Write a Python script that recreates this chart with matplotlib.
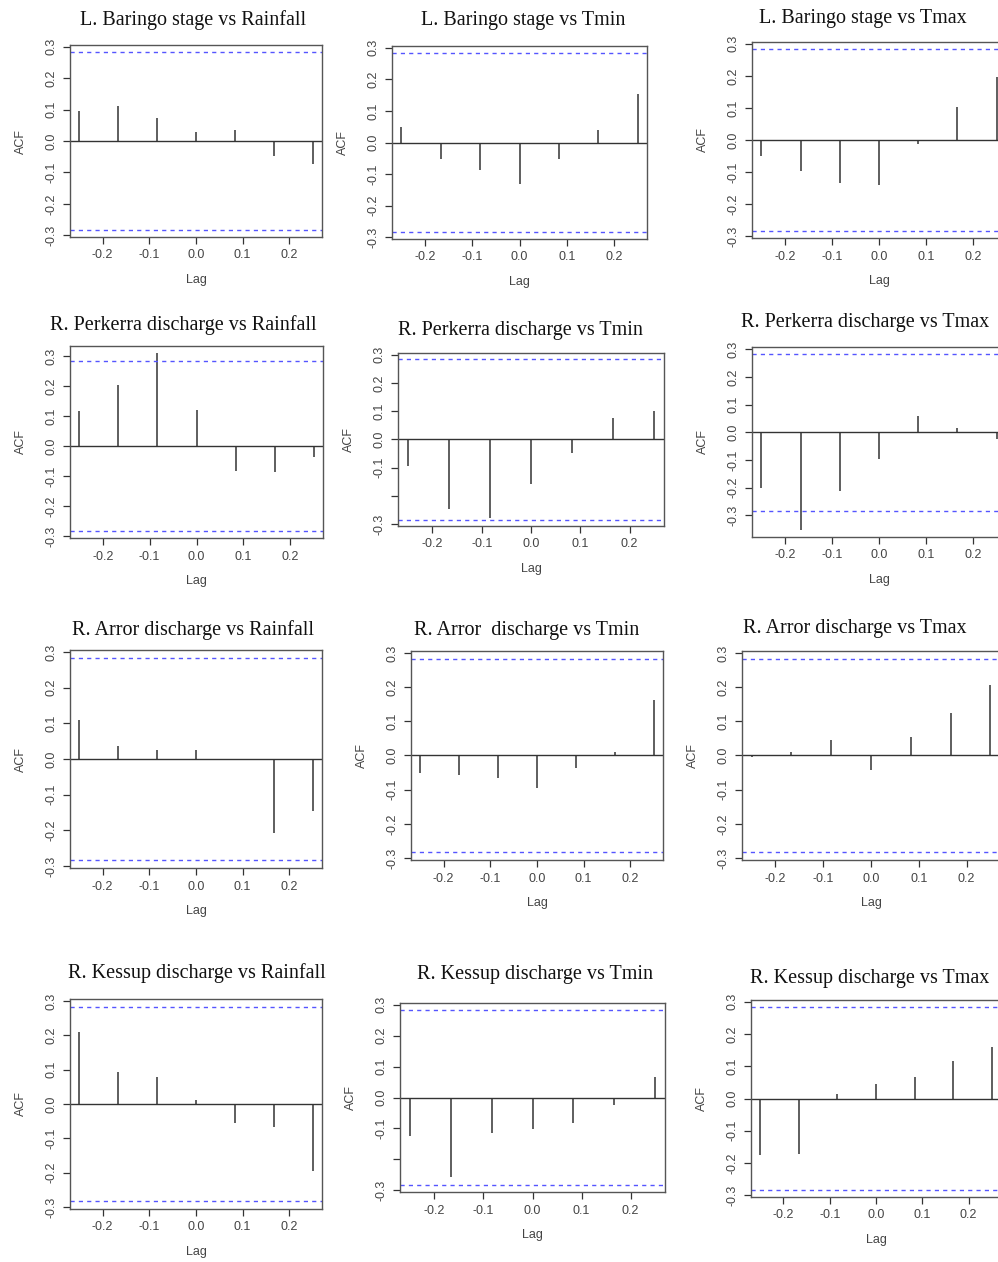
import numpy as np
import matplotlib
matplotlib.use("Agg")
import matplotlib.pyplot as plt

# lags in years (monthly series, lag -3..3 months)
lags = np.array([-3, -2, -1, 0, 1, 2, 3]) / 12.0
ci = 0.283

titles = [
    "L. Baringo stage vs Rainfall", "L. Baringo stage vs Tmin", "L. Baringo stage vs Tmax",
    "R. Perkerra discharge vs Rainfall", "R. Perkerra discharge vs Tmin", "R. Perkerra discharge vs Tmax",
    "R. Arror discharge vs Rainfall", "R. Arror  discharge vs Tmin", "R. Arror discharge vs Tmax",
    "R. Kessup discharge vs Rainfall", "R. Kessup discharge vs Tmin", "R. Kessup discharge vs Tmax",
]

baringo_rain = [0.097, 0.113, 0.072, 0.028, 0.036, -0.047, -0.072]
baringo_tmin = [0.049, -0.053, -0.086, -0.130, -0.052, 0.041, 0.153]
baringo_tmax = [-0.050, -0.098, -0.133, -0.141, -0.012, 0.103, 0.196]
perkerra_rain = [0.118, 0.203, 0.310, 0.121, -0.083, -0.085, -0.037]
perkerra_tmin = [-0.094, -0.245, -0.278, -0.158, -0.048, 0.075, 0.101]
perkerra_tmax = [-0.202, -0.353, -0.213, -0.095, 0.060, 0.014, -0.024]
arror_rain = [0.110, 0.036, 0.026, 0.025, -0.004, -0.208, -0.146]
arror_tmin = [-0.052, -0.057, -0.066, -0.094, -0.037, 0.009, 0.163]
arror_tmax = [-0.005, 0.009, 0.046, -0.042, 0.054, 0.125, 0.207]
kessup_rain = [0.209, 0.092, 0.078, 0.013, -0.056, -0.068, -0.194]
kessup_tmin = [-0.126, -0.258, -0.115, -0.102, -0.081, -0.025, 0.065]
kessup_tmax = [-0.176, -0.173, 0.015, 0.045, 0.066, 0.117, 0.161]

series = [baringo_rain, baringo_tmin, baringo_tmax,
          perkerra_rain, perkerra_tmin, perkerra_tmax,
          arror_rain, arror_tmin, arror_tmax,
          kessup_rain, kessup_tmin, kessup_tmax]

# panels where the -0.2 label got dropped (too short)
no_m02 = [4, 10]

# axes boxes in pixels: left, top, right, bottom
boxes = [
    (70, 45, 322, 237), (392, 46, 647, 239), (752, 42, 1006, 238),
    (70, 346, 323, 538), (398, 353, 664, 526), (752, 347, 1006, 537),
    (70, 650, 322, 868), (411, 651, 663, 860), (742, 651, 1000, 860),
    (70, 999, 322, 1209), (400, 1003, 665, 1192), (751, 1000, 1001, 1197),
]
title_pos = [
    (193, 20), (523, 20), (863, 18),
    (183, 325), (520, 330), (865, 322),
    (193, 630), (527, 630), (855, 628),
    (197, 973), (535, 975), (870, 978),
]

W, H = 998, 1262
fig = plt.figure(figsize=(W / 100, H / 100), dpi=100)
fig.patch.set_facecolor("white")

txt = "#444444"
line = "#333333"

for i, vals in enumerate(series):
    vals = np.array(vals)
    l, t, r, b = boxes[i]
    ax = fig.add_axes([l / W, 1 - b / H, (r - l) / W, (b - t) / H])
    ax.vlines(lags, 0, vals, color=line, lw=1.1)
    ax.axhline(0, color=line, lw=1.0)
    ax.axhline(ci, color="#5555ff", lw=1.0, ls=(0, (3, 3)))
    ax.axhline(-ci, color="#5555ff", lw=1.0, ls=(0, (3, 3)))

    lo = min(vals.min(), -ci)
    hi = max(vals.max(), ci)
    pad = 0.04 * (hi - lo)
    ax.set_ylim(lo - pad, hi + pad)
    xpad = 0.04 * 0.5
    ax.set_xlim(lags[0] - xpad, lags[-1] + xpad)

    xt = [-0.2, -0.1, 0.0, 0.1, 0.2]
    ax.set_xticks(xt)
    ax.set_xticklabels(["%.1f" % v for v in xt])
    yt = [-0.3, -0.2, -0.1, 0.0, 0.1, 0.2, 0.3]
    ylab = ["%.1f" % v for v in yt]
    if i in no_m02:
        ylab[1] = ""
    ax.set_yticks(yt)
    ax.set_yticklabels(ylab, rotation=90, va="center")

    ax.tick_params(length=5, width=0.9, color=line, labelcolor=txt,
                   labelsize=9, pad=4)
    for s in ax.spines.values():
        s.set_color("#555555")
        s.set_linewidth(1.0)
    ax.set_xlabel("Lag", fontsize=9, color=txt, labelpad=9)
    ax.set_ylabel("ACF", fontsize=9, color=txt, labelpad=13)
    for lab in ax.get_xticklabels() + ax.get_yticklabels():
        lab.set_family("Liberation Sans")
    ax.xaxis.label.set_family("Liberation Sans")
    ax.yaxis.label.set_family("Liberation Sans")

    tx, ty = title_pos[i]
    fig.text(tx / W, 1 - ty / H, titles[i], ha="center", va="center",
             fontsize=14.5, family="Liberation Serif", color="#111111")

fig.savefig("out.png", dpi=100)
